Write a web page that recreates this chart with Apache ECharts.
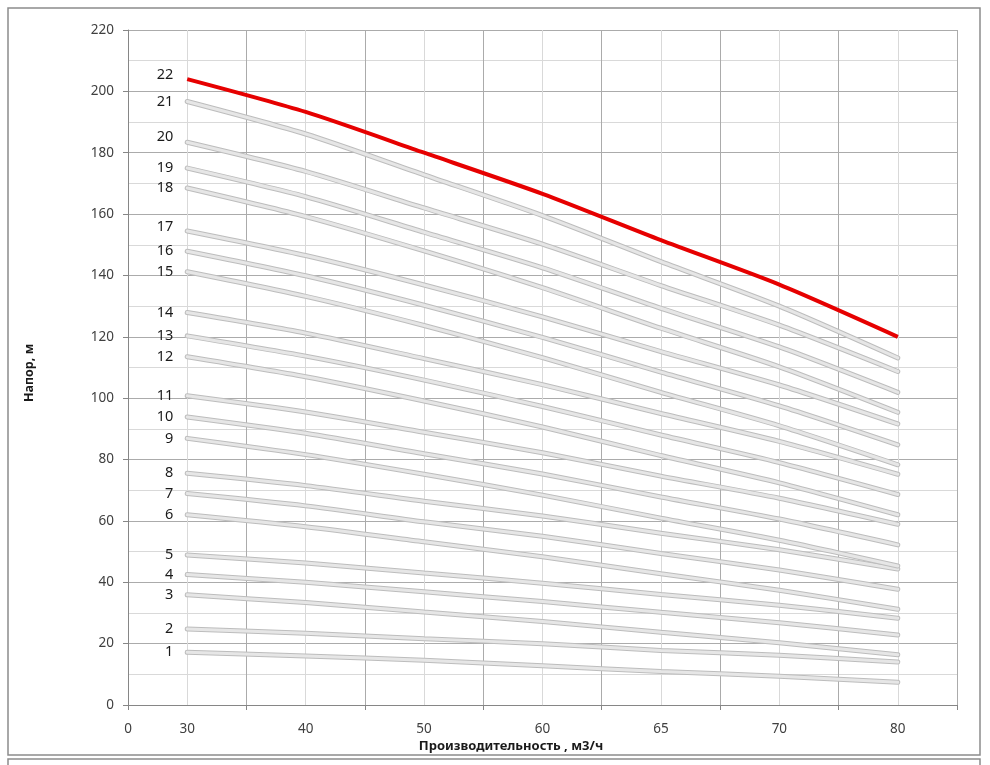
<!DOCTYPE html>
<html><head><meta charset="utf-8">
<script src="https://cdn.jsdelivr.net/npm/echarts@6/dist/echarts.min.js"></script>
<style>html,body{margin:0;padding:0;background:#fff}#c{width:990px;height:765px}</style>
</head><body><div id="c"></div>
<script>
// Flow rate tick labels (m3/h), one per curve vertex
const flowRates = ['30','40','50','60','65','70','80'];
// Head values (m) per curve, read at 30,40,50,60,65,70,80
const h1  = [17.2, 16.0, 14.6, 12.8, 10.9, 9.4, 7.4];
const h2  = [24.8, 23.4, 21.6, 20.0, 17.8, 16.2, 14.0];
const h3  = [35.9, 33.4, 30.3, 27.2, 23.7, 20.3, 16.4];
const h4  = [42.5, 40.0, 36.9, 33.7, 30.2, 26.8, 22.8];
const h5  = [48.9, 46.3, 43.0, 39.7, 36.0, 32.5, 28.3];
const h6  = [62.0, 58.1, 53.2, 48.3, 42.8, 37.4, 31.2];
const h7  = [68.9, 64.9, 59.7, 55.0, 49.4, 44.0, 37.7];
const h8  = [75.5, 71.5, 66.4, 61.6, 56.0, 50.6, 44.3];
const h9  = [86.9, 81.6, 75.2, 68.4, 60.9, 53.7, 45.3];
const h10 = [93.9, 88.6, 81.9, 75.3, 67.8, 60.6, 52.2];
const h11 = [100.8, 95.5, 88.9, 82.2, 74.6, 67.4, 58.9];
const h12 = [113.5, 107.0, 99.1, 90.6, 81.3, 72.4, 62.0];
const h13 = [120.3, 113.7, 105.9, 97.3, 88.0, 79.0, 68.6];
const h14 = [127.9, 121.2, 112.9, 104.4, 95.0, 85.9, 75.2];
const h15 = [141.2, 133.2, 123.7, 113.2, 101.9, 91.0, 78.3];
const h16 = [147.9, 139.9, 130.3, 119.8, 108.5, 97.5, 84.8];
const h17 = [154.5, 146.5, 136.9, 126.5, 115.2, 104.3, 91.6];
const h18 = [168.5, 159.2, 148.0, 136.0, 122.8, 110.2, 95.4];
const h19 = [175.0, 165.7, 154.1, 142.5, 129.3, 116.7, 101.9];
const h20 = [183.4, 173.9, 162.0, 150.2, 136.7, 123.8, 108.7];
const h21 = [196.7, 186.1, 172.8, 159.5, 144.5, 130.0, 113.1];
const h22 = [204.0, 193.3, 180.0, 166.6, 151.5, 137.0, 120.0];
const curveNames = ['1','2','3','4','5','6','7','8','9','10','11','12','13','14','15','16','17','18','19','20','21','22'];
const curves = [h1,h2,h3,h4,h5,h6,h7,h8,h9,h10,h11,h12,h13,h14,h15,h16,h17,h18,h19,h20,h21,h22];

const FONT = 'Noto Sans';
const labelLift = {'22': -4, '20': -5, '17': -4};

function points(arr, name, withLabel) {
  return arr.map((v, i) => {
    const p = { value: [2 * i + 1, v] };
    if (i === 0 && withLabel) {
      p.label = {
        show: true, formatter: name, position: 'left', distance: 14,
        color: '#1a1a1a', fontSize: 14.5, fontFamily: FONT,
        offset: [0, labelLift[name] || 0]
      };
    }
    return p;
  });
}

const SMOOTH = 0.25;
const series = [];
curves.forEach((arr, k) => {
  const name = curveNames[k];
  if (k < curves.length - 1) {
    series.push({
      type: 'line', name: name + 'o', data: points(arr, name, true),
      symbol: 'circle', symbolSize: 0, showSymbol: true, showAllSymbol: true,
      smooth: SMOOTH,
      lineStyle: { color: '#bdbdbd', width: 5, cap: 'round' },
      itemStyle: { color: '#bdbdbd' }, silent: true, animation: false
    });
    series.push({
      type: 'line', name: name + 'i', data: points(arr, name, false),
      symbol: 'none', smooth: SMOOTH,
      lineStyle: { color: '#e6e6e6', width: 3, cap: 'round' },
      silent: true, animation: false
    });
  } else {
    series.push({
      type: 'line', name: name, data: points(arr, name, true),
      symbol: 'circle', symbolSize: 0, showSymbol: true, showAllSymbol: true,
      smooth: SMOOTH,
      lineStyle: { color: '#e60000', width: 4 },
      itemStyle: { color: '#e60000' }, silent: true, animation: false, z: 5
    });
  }
});

const chart = echarts.init(document.getElementById('c'), null, { renderer: 'canvas' });
chart.setOption({
  animation: false,
  backgroundColor: '#ffffff',
  grid: { left: 128, right: 33, top: 30, bottom: 60, containLabel: false },
  xAxis: [{
    type: 'value', min: 0, max: 14, interval: 2, position: 'bottom',
    axisLine: { show: true, onZero: false, lineStyle: { color: '#868686', width: 1 } },
    axisTick: { show: true, length: 5, inside: false, lineStyle: { color: '#868686' } },
    axisLabel: { show: false },
    splitLine: { show: true, lineStyle: { color: '#ababab', width: 1 } },
    minorTick: { show: false, splitNumber: 2 },
    minorSplitLine: { show: true, lineStyle: { color: '#d9d9d9', width: 1 } }
  }, {
    type: 'value', min: 0, max: 14, interval: 1, position: 'bottom',
    axisLine: { show: false }, axisTick: { show: false }, splitLine: { show: false },
    axisLabel: {
      show: true, margin: 17, color: '#404040', fontSize: 13.5, fontFamily: FONT,
      formatter: v => v === 0 ? '0' : (v % 2 === 1 ? flowRates[(v - 1) / 2] : '')
    }
  }],
  yAxis: {
    type: 'value', min: 0, max: 220, interval: 20,
    axisLine: { show: true, onZero: false, lineStyle: { color: '#868686', width: 1 } },
    axisTick: { show: true, length: 5, inside: false, lineStyle: { color: '#868686' } },
    axisLabel: { show: true, margin: 14, color: '#404040', fontSize: 13.5, fontFamily: FONT },
    splitLine: { show: true, lineStyle: { color: '#ababab', width: 1 } },
    minorTick: { show: false, splitNumber: 2 },
    minorSplitLine: { show: true, lineStyle: { color: '#d9d9d9', width: 1 } }
  },
  graphic: [
    { type: 'rect', shape: { x: 8, y: 8, width: 972, height: 747 }, style: { fill: null, stroke: '#8c8c8c', lineWidth: 1.5 }, silent: true },
    { type: 'rect', shape: { x: 8, y: 759, width: 972, height: 60 }, style: { fill: null, stroke: '#8c8c8c', lineWidth: 1.5 }, silent: true },
    { type: 'text', x: 511, y: 746, silent: true,
      style: { text: 'Производительность , м3/ч', fill: '#1a1a1a', font: 'bold 13px "Noto Sans"', textAlign: 'center', textVerticalAlign: 'middle' } },
    { type: 'text', x: 29, y: 373, rotation: Math.PI / 2, silent: true,
      style: { text: 'Напор, м', fill: '#1a1a1a', font: 'bold 12.5px "Noto Sans"', textAlign: 'center', textVerticalAlign: 'middle' } }
  ],
  series: series
});
</script>
</body></html>
